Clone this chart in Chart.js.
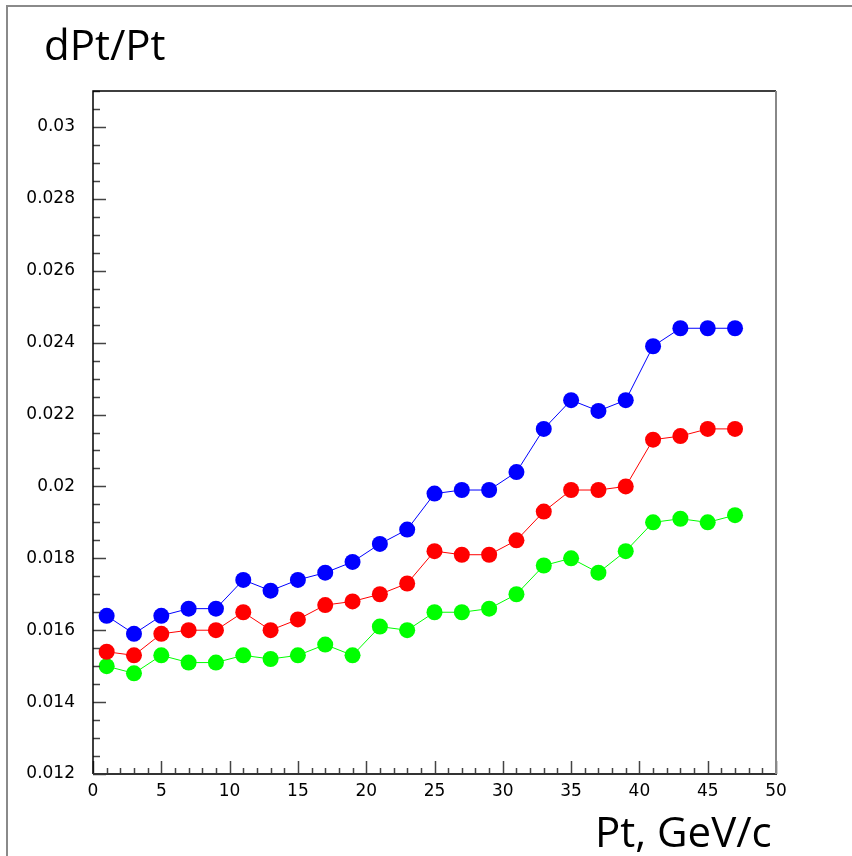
<!DOCTYPE html>
<html>
<head>
<meta charset="utf-8">
<script src="https://cdn.jsdelivr.net/npm/chart.js@4.4.1/dist/chart.umd.min.js"></script>
<style>
  html, body { margin: 0; padding: 0; background: #fff; }
  #wrap { position: relative; width: 852px; height: 856px; overflow: hidden; }
  #frame { position: absolute; left: 6px; top: 5px; right: -4px; bottom: -4px;
           border-left: 2px solid #8a8a8a; border-top: 2px solid #8a8a8a; }
  #chart { position: absolute; left: 0; top: 0; }
  .lbl { position: absolute; font-family: "Open Sans", sans-serif; color: #000;
         line-height: 1; white-space: nowrap; }
  #ytitle { left: 44px; top: 23px; font-size: 42px; }
  #xtitle { left: 595px; top: 810px; font-size: 42px; }
</style>
</head>
<body>
<div id="wrap">
  <div id="frame"></div>
  <canvas id="chart" width="852" height="856"></canvas>
  <div class="lbl" id="ytitle">dPt/Pt</div>
  <div class="lbl" id="xtitle">Pt, GeV/c</div>
</div>
<script>
const ptValues = [1, 3, 5, 7, 9, 11, 13, 15, 17, 19, 21, 23, 25, 27, 29, 31, 33, 35, 37, 39, 41, 43, 45, 47];
const blueValues = [0.0164, 0.0159, 0.0164, 0.0166, 0.0166, 0.0174, 0.0171, 0.0174, 0.0176, 0.0179, 0.0184, 0.0188,
                    0.0198, 0.0199, 0.0199, 0.0204, 0.0216, 0.0224, 0.0221, 0.0224, 0.0239, 0.0244, 0.0244, 0.0244];
const redValues = [0.0154, 0.0153, 0.0159, 0.0160, 0.0160, 0.0165, 0.0160, 0.0163, 0.0167, 0.0168, 0.0170, 0.0173,
                   0.0182, 0.0181, 0.0181, 0.0185, 0.0193, 0.0199, 0.0199, 0.0200, 0.0213, 0.0214, 0.0216, 0.0216];
const greenValues = [0.0150, 0.0148, 0.0153, 0.0151, 0.0151, 0.0153, 0.0152, 0.0153, 0.0156, 0.0153, 0.0161, 0.0160,
                     0.0165, 0.0165, 0.0166, 0.0170, 0.0178, 0.0180, 0.0176, 0.0182, 0.0190, 0.0191, 0.0190, 0.0192];
const xMin = 0, xMax = 50, xMajor = 5, xMinor = 1;
const yMin = 0.012, yMax = 0.031, yMajor = 0.002, yMinor = 0.0005;

function toPoints(vals) {
  return vals.map((v, i) => ({ x: ptValues[i], y: v }));
}

function series(vals, color) {
  return {
    data: toPoints(vals),
    borderColor: color,
    backgroundColor: color,
    borderWidth: 1,
    pointRadius: 8,
    pointBorderWidth: 0,
    pointHoverRadius: 8,
    tension: 0
  };
}

const isMajor = (v, step) => Math.abs(v / step - Math.round(v / step)) < 1e-6;

// ROOT style: ticks pointing inside, frame around the pad
const insideTicks = {
  id: 'insideTicks',
  afterDraw(chart) {
    const ctx = chart.ctx;
    const a = chart.chartArea;
    const xs = chart.scales.x, ys = chart.scales.y;
    ctx.save();
    ctx.strokeStyle = '#444';
    ctx.lineWidth = 1.5;
    ctx.beginPath();
    xs.ticks.forEach(t => {
      const px = Math.round(xs.getPixelForValue(t.value)) + 0.5;
      const len = isMajor(t.value, xMajor) ? 13 : 6;
      ctx.moveTo(px, a.bottom);
      ctx.lineTo(px, a.bottom - len);
    });
    ys.ticks.forEach(t => {
      const py = Math.round(ys.getPixelForValue(t.value)) + 0.5;
      const len = isMajor(t.value - yMin, yMajor) ? 13 : 7;
      ctx.moveTo(a.left, py);
      ctx.lineTo(a.left + len, py);
    });
    ctx.stroke();

    ctx.lineWidth = 1.5;
    ctx.strokeStyle = '#000';
    ctx.beginPath();
    ctx.moveTo(a.left, a.bottom);
    ctx.lineTo(a.left, a.top);
    ctx.lineTo(a.right, a.top);
    ctx.stroke();
    ctx.strokeStyle = '#333';
    ctx.lineWidth = 2;
    ctx.beginPath();
    ctx.moveTo(a.left, a.bottom);
    ctx.lineTo(a.right + 1, a.bottom);
    ctx.stroke();
    ctx.strokeStyle = '#888';
    ctx.lineWidth = 2;
    ctx.beginPath();
    ctx.moveTo(a.right, a.top);
    ctx.lineTo(a.right, a.bottom);
    ctx.stroke();
    ctx.restore();
  }
};

new Chart(document.getElementById('chart'), {
  type: 'line',
  data: {
    datasets: [
      series(blueValues, '#0000ff'),
      series(redValues, '#ff0000'),
      series(greenValues, '#00ff00')
    ]
  },
  options: {
    responsive: false,
    animation: false,
    layout: { padding: { left: 0, top: 91, right: 76, bottom: 0 } },
    plugins: { legend: { display: false }, tooltip: { enabled: false } },
    scales: {
      x: {
        type: 'linear',
        min: xMin, max: xMax,
        afterFit(scale) { scale.height = 82; },
        grid: { display: false, drawTicks: false },
        border: { display: false },
        ticks: {
          stepSize: xMinor,
          autoSkip: false,
          maxRotation: 0,
          padding: 7,
          color: '#000',
          font: { family: 'DejaVu Sans', size: 17 },
          callback: v => isMajor(v, xMajor) ? String(v) : ''
        }
      },
      y: {
        type: 'linear',
        min: yMin, max: yMax,
        afterFit(scale) { scale.width = 93; },
        grid: { display: false, drawTicks: false },
        border: { display: false },
        ticks: {
          stepSize: yMinor,
          autoSkip: false,
          padding: 18,
          color: '#000',
          font: { family: 'DejaVu Sans', size: 17 },
          callback: v => isMajor(v - yMin, yMajor) ? String(parseFloat(v.toFixed(4))) : ''
        }
      }
    }
  },
  plugins: [insideTicks]
});
</script>
</body>
</html>
